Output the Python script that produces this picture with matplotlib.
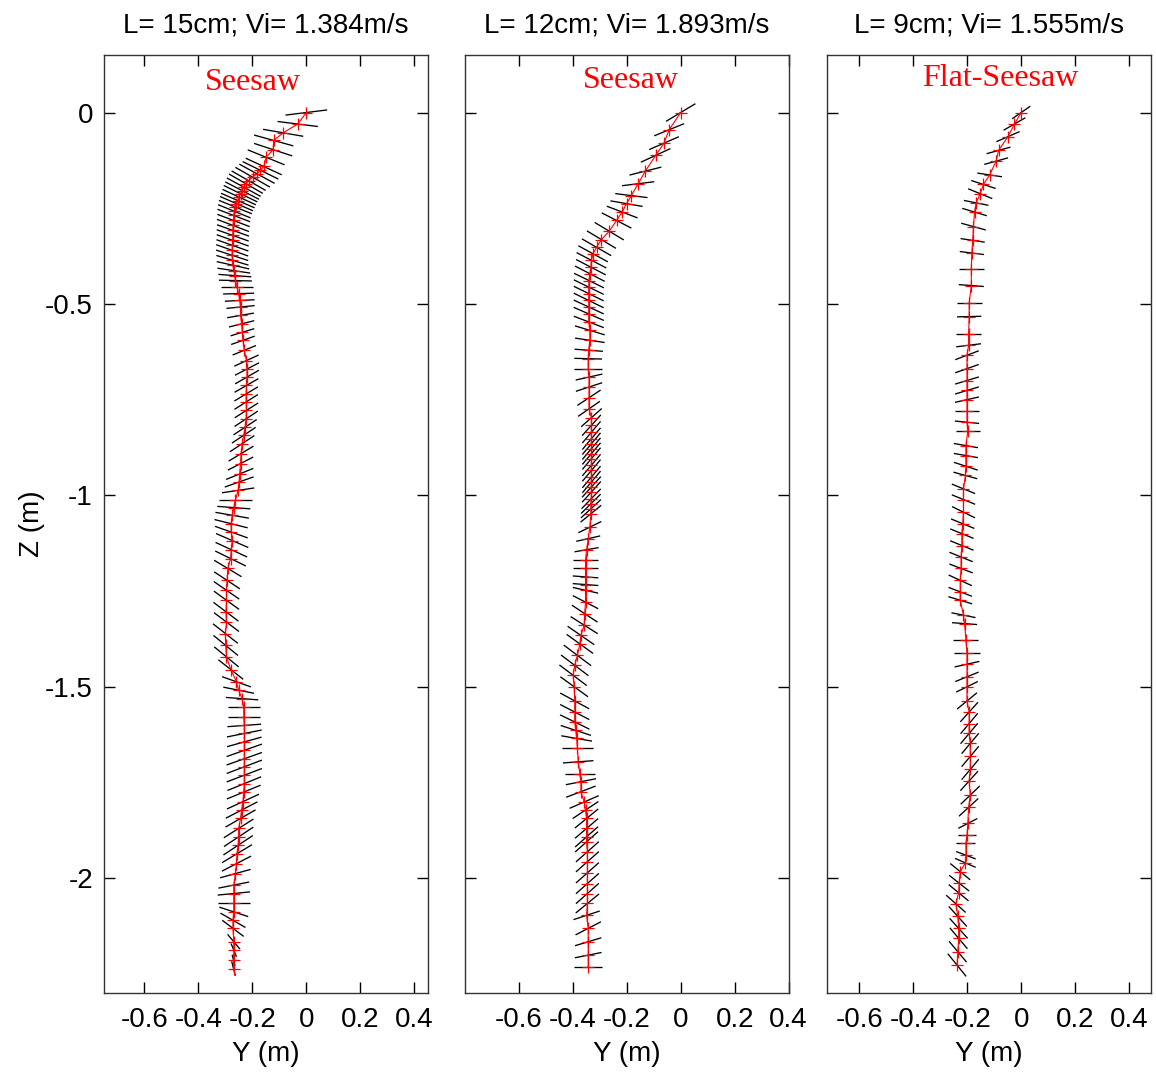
import numpy as np
import matplotlib.pyplot as plt

plt.rcParams['font.family'] = ['Liberation Sans', 'DejaVu Sans']
plt.rcParams['axes.unicode_minus'] = False

# ---- data: trajectory points (Z, Y), plate angle (deg), projected plate length (m)
titles = ['L= 15cm; Vi= 1.384m/s', 'L= 12cm; Vi= 1.893m/s', 'L= 9cm; Vi= 1.555m/s']
modes = ['Seesaw', 'Seesaw', 'Flat-Seesaw']
mode_pos = [(-0.20, 0.078), (-0.183, 0.083), (-0.078, 0.088)]
xlims = [(-0.75, 0.45), (-0.80, 0.40), (-0.72, 0.48)]

# panel 1 (L = 15cm)
z1 = [0.000, -0.030, -0.053, -0.073, -0.097, -0.117, -0.141, -0.151, -0.160, -0.169,
      -0.178, -0.186, -0.195, -0.204, -0.212, -0.221, -0.230, -0.238, -0.247, -0.258,
      -0.269, -0.282, -0.295, -0.308, -0.321, -0.334, -0.347, -0.360, -0.373, -0.386,
      -0.399, -0.413, -0.426, -0.439, -0.456, -0.473, -0.491, -0.508, -0.530, -0.552,
      -0.574, -0.595, -0.621, -0.648, -0.670, -0.691, -0.713, -0.735, -0.756, -0.778,
      -0.800, -0.822, -0.843, -0.865, -0.891, -0.917, -0.944, -0.965, -0.987, -1.013,
      -1.032, -1.052, -1.074, -1.096, -1.118, -1.142, -1.165, -1.191, -1.222, -1.248,
      -1.274, -1.304, -1.331, -1.361, -1.392, -1.422, -1.455, -1.487, -1.509, -1.531,
      -1.553, -1.579, -1.601, -1.622, -1.644, -1.666, -1.688, -1.709, -1.731, -1.753,
      -1.775, -1.800, -1.822, -1.844, -1.870, -1.892, -1.914, -1.936, -1.962, -1.988,
      -2.018, -2.040, -2.066, -2.088, -2.110, -2.131, -2.166, -2.188, -2.214, -2.236]
y1 = [0.000, -0.032, -0.086, -0.121, -0.123, -0.149, -0.158, -0.170, -0.183, -0.199,
      -0.214, -0.224, -0.232, -0.238, -0.244, -0.249, -0.254, -0.259, -0.263, -0.267,
      -0.269, -0.270, -0.272, -0.272, -0.273, -0.273, -0.274, -0.275, -0.275, -0.274,
      -0.272, -0.269, -0.265, -0.263, -0.257, -0.251, -0.247, -0.244, -0.244, -0.240,
      -0.237, -0.235, -0.230, -0.222, -0.220, -0.220, -0.222, -0.223, -0.223, -0.222,
      -0.223, -0.227, -0.232, -0.238, -0.242, -0.244, -0.247, -0.249, -0.253, -0.263,
      -0.269, -0.275, -0.279, -0.278, -0.275, -0.278, -0.281, -0.291, -0.294, -0.296,
      -0.296, -0.298, -0.296, -0.300, -0.299, -0.296, -0.280, -0.259, -0.251, -0.238,
      -0.232, -0.232, -0.230, -0.230, -0.230, -0.230, -0.230, -0.230, -0.230, -0.230,
      -0.232, -0.235, -0.240, -0.244, -0.251, -0.251, -0.253, -0.257, -0.259, -0.263,
      -0.269, -0.269, -0.269, -0.269, -0.272, -0.272, -0.269, -0.269, -0.270, -0.270]
ang1 = [5, -5, -7, -11, -13, -16, -18, -19, -21, -22,
        -22, -22, -21, -20, -19, -18, -17, -17, -16, -16,
        -15, -15, -15, -14, -14, -14, -14, -14, -13, -12,
        -9, -6, -3, -1, 0, 1, 2, 4, 7, 10,
        12, 14, 16, 18, 20, 22, 22, 23, 24, 24,
        25, 25, 25, 25, 23, 20, 16, 14, 6, 0,
        -3, -7, -10, -14, -17, -18, -19, -23, -25, -26,
        -27, -28, -28, -29, -30, -30, -29, -14, -8, -3,
        0, 0, 3, 8, 11, 14, 14, 15, 15, 16,
        16, 18, 20, 22, 24, 25, 25, 23, 20, 11,
        8, 4, 0, -13, -22, -28, -40, -60, -70, -70]
len1 = [0.155, 0.150, 0.150, 0.148, 0.145, 0.142, 0.140, 0.140, 0.140, 0.138,
        0.136, 0.135, 0.134, 0.133, 0.132, 0.130, 0.130, 0.128, 0.127, 0.125,
        0.125, 0.124, 0.123, 0.122, 0.122, 0.122, 0.122, 0.122, 0.122, 0.122,
        0.122, 0.122, 0.122, 0.122, 0.120, 0.115, 0.110, 0.105, 0.100, 0.095,
        0.090, 0.090, 0.090, 0.095, 0.095, 0.095, 0.095, 0.095, 0.095, 0.095,
        0.095, 0.095, 0.097, 0.100, 0.100, 0.100, 0.105, 0.110, 0.120, 0.123,
        0.123, 0.125, 0.125, 0.125, 0.125, 0.123, 0.120, 0.110, 0.105, 0.105,
        0.105, 0.105, 0.105, 0.105, 0.105, 0.105, 0.105, 0.110, 0.115, 0.120,
        0.120, 0.120, 0.125, 0.130, 0.130, 0.135, 0.135, 0.135, 0.135, 0.130,
        0.130, 0.125, 0.125, 0.120, 0.120, 0.120, 0.120, 0.120, 0.115, 0.115,
        0.115, 0.120, 0.120, 0.110, 0.100, 0.090, 0.060, 0.040, 0.030, 0.040]

# panel 2 (L = 12cm)
z2 = [0.000, -0.045, -0.080, -0.112, -0.153, -0.186, -0.217, -0.238, -0.260, -0.282,
      -0.310, -0.332, -0.352, -0.369, -0.386, -0.404, -0.421, -0.439, -0.456, -0.473,
      -0.491, -0.508, -0.526, -0.547, -0.569, -0.595, -0.621, -0.643, -0.669, -0.691,
      -0.717, -0.745, -0.774, -0.797, -0.817, -0.835, -0.852, -0.865, -0.878, -0.891,
      -0.904, -0.921, -0.935, -0.952, -0.965, -0.978, -0.991, -1.009, -1.022, -1.035,
      -1.048, -1.083, -1.113, -1.142, -1.170, -1.191, -1.213, -1.233, -1.248, -1.279,
      -1.309, -1.339, -1.366, -1.388, -1.418, -1.444, -1.470, -1.500, -1.537, -1.566,
      -1.592, -1.614, -1.635, -1.661, -1.696, -1.727, -1.748, -1.774, -1.801, -1.822,
      -1.844, -1.870, -1.892, -1.905, -1.931, -1.957, -1.986, -2.014, -2.040, -2.066,
      -2.097, -2.131, -2.166, -2.201, -2.233]
y2 = [0.000, -0.043, -0.062, -0.093, -0.131, -0.158, -0.183, -0.201, -0.217, -0.238,
      -0.265, -0.294, -0.312, -0.325, -0.331, -0.333, -0.337, -0.340, -0.341, -0.341,
      -0.341, -0.341, -0.341, -0.341, -0.337, -0.337, -0.341, -0.343, -0.343, -0.340,
      -0.340, -0.340, -0.340, -0.331, -0.331, -0.331, -0.331, -0.331, -0.331, -0.331,
      -0.331, -0.331, -0.331, -0.331, -0.331, -0.331, -0.331, -0.332, -0.333, -0.333,
      -0.333, -0.337, -0.343, -0.349, -0.353, -0.353, -0.353, -0.353, -0.353, -0.353,
      -0.356, -0.358, -0.370, -0.374, -0.383, -0.393, -0.399, -0.395, -0.393, -0.393,
      -0.393, -0.389, -0.386, -0.383, -0.380, -0.374, -0.370, -0.370, -0.358, -0.353,
      -0.349, -0.349, -0.349, -0.349, -0.346, -0.346, -0.346, -0.346, -0.346, -0.346,
      -0.349, -0.343, -0.343, -0.343, -0.343]
ang2 = [23, 16, 17, 18, 10, 5, -5, -7, -15, -20,
        -23, -23, -22, -21, -20, -20, -20, -19, -19, -19,
        -19, -18, -17, -15, -12, -6, -3, -1, 0, 9,
        13, 25, 26, 32, 38, 40, 40, 40, 40, 40,
        40, 40, 40, 40, 40, 38, 38, 36, 35, 33,
        30, 19, 9, 7, 0, 0, -3, -3, -9, -20,
        -25, -24, -26, -27, -28, -28, -28, -27, -21, -20,
        -19, -13, -7, 0, 3, 0, 8, 15, 17, 25,
        30, 31, 32, 32, 32, 32, 32, 32, 32, 30,
        13, 20, 12, 8, 0]
len2 = [0.118, 0.115, 0.115, 0.115, 0.120, 0.120, 0.120, 0.120, 0.118, 0.117,
        0.117, 0.117, 0.117, 0.117, 0.117, 0.117, 0.117, 0.117, 0.117, 0.117,
        0.117, 0.117, 0.117, 0.115, 0.113, 0.110, 0.105, 0.103, 0.103, 0.100,
        0.100, 0.095, 0.090, 0.090, 0.088, 0.088, 0.088, 0.088, 0.088, 0.088,
        0.088, 0.088, 0.088, 0.088, 0.088, 0.088, 0.088, 0.088, 0.088, 0.088,
        0.088, 0.090, 0.090, 0.090, 0.093, 0.093, 0.095, 0.095, 0.095, 0.100,
        0.105, 0.110, 0.110, 0.110, 0.115, 0.115, 0.115, 0.115, 0.115, 0.115,
        0.115, 0.115, 0.115, 0.116, 0.113, 0.113, 0.113, 0.113, 0.113, 0.105,
        0.100, 0.100, 0.100, 0.100, 0.100, 0.100, 0.100, 0.100, 0.100, 0.100,
        0.100, 0.100, 0.100, 0.100, 0.104]

# panel 3 (L = 9cm)
z3 = [0.000, -0.030, -0.063, -0.099, -0.127, -0.163, -0.188, -0.212, -0.236, -0.260,
      -0.298, -0.334, -0.367, -0.408, -0.452, -0.497, -0.533, -0.578, -0.608, -0.634,
      -0.669, -0.700, -0.726, -0.750, -0.780, -0.809, -0.832, -0.870, -0.896, -0.924,
      -0.948, -0.983, -1.011, -1.044, -1.074, -1.100, -1.131, -1.161, -1.191, -1.222,
      -1.252, -1.274, -1.313, -1.335, -1.377, -1.413, -1.441, -1.474, -1.500, -1.537,
      -1.566, -1.596, -1.622, -1.648, -1.682, -1.716, -1.746, -1.783, -1.815, -1.857,
      -1.888, -1.909, -1.940, -1.960, -1.983, -2.013, -2.038, -2.067, -2.100, -2.131,
      -2.157, -2.192, -2.227]
y3 = [0.000, -0.025, -0.049, -0.084, -0.093, -0.117, -0.140, -0.152, -0.167, -0.173,
      -0.177, -0.180, -0.183, -0.185, -0.185, -0.193, -0.193, -0.195, -0.195, -0.201,
      -0.201, -0.201, -0.201, -0.201, -0.201, -0.201, -0.198, -0.205, -0.205, -0.205,
      -0.207, -0.214, -0.214, -0.214, -0.217, -0.220, -0.220, -0.223, -0.223, -0.226,
      -0.226, -0.226, -0.214, -0.210, -0.205, -0.201, -0.201, -0.201, -0.201, -0.201,
      -0.193, -0.193, -0.193, -0.189, -0.189, -0.189, -0.193, -0.189, -0.195, -0.198,
      -0.201, -0.205, -0.205, -0.207, -0.226, -0.230, -0.232, -0.242, -0.235, -0.232,
      -0.232, -0.235, -0.238]
ang3 = [26, 22, 17, 11, 11, -6, -13, -16, -8, -12,
        -11, -6, -5, 0, -3, 0, 1, 0, 5, 15,
        14, 12, 12, 9, 0, -4, 0, -7, -7, -13,
        -11, -16, -16, -19, -16, -16, -16, -16, -15, -18,
        -15, -12, -8, -3, 0, 0, 9, 16, 19, 30,
        38, 40, 40, 40, 40, 40, 38, 34, 33, 20,
        0, 0, -15, -17, -30, -29, -30, -32, -38, -38,
        -40, -40, -41]
len3 = [0.075, 0.087, 0.090, 0.090, 0.090, 0.092, 0.093, 0.093, 0.092, 0.093,
        0.093, 0.090, 0.090, 0.093, 0.093, 0.093, 0.090, 0.095, 0.092, 0.090,
        0.090, 0.090, 0.090, 0.090, 0.090, 0.090, 0.090, 0.090, 0.090, 0.090,
        0.090, 0.090, 0.090, 0.090, 0.090, 0.090, 0.090, 0.090, 0.090, 0.090,
        0.090, 0.090, 0.090, 0.093, 0.093, 0.093, 0.093, 0.090, 0.085, 0.085,
        0.083, 0.083, 0.083, 0.083, 0.083, 0.083, 0.083, 0.085, 0.085, 0.075,
        0.070, 0.070, 0.075, 0.080, 0.085, 0.085, 0.085, 0.085, 0.085, 0.085,
        0.085, 0.085, 0.090]

panels = [(z1, y1, ang1, len1), (z2, y2, ang2, len2), (z3, y3, ang3, len3)]

fig = plt.figure(figsize=(11.56, 10.76), dpi=100)
lefts = [0.0900, 0.4022, 0.7154]

for k in range(3):
    z, y, ang, ln = [np.array(a, dtype=float) for a in panels[k]]
    ax = fig.add_axes([lefts[k], 0.0771, 0.2800, 0.8717])

    # plate segments
    t = np.radians(ang)
    dy = 0.5 * ln * np.cos(t)
    dz = 0.5 * ln * np.sin(t)
    for i in range(len(z)):
        ax.plot([y[i] - dy[i], y[i] + dy[i]], [z[i] - dz[i], z[i] + dz[i]],
                color='black', lw=0.95, solid_capstyle='butt')

    # trajectory
    ax.plot(y, z, color='red', lw=0.8, marker='+', ms=8, mew=0.9)

    ax.text(mode_pos[k][0], mode_pos[k][1], modes[k], color='red', fontsize=23,
            family=['Liberation Serif', 'DejaVu Serif'], ha='center', va='center')

    ax.set_xlim(*xlims[k])
    ax.set_ylim(-2.3, 0.15)
    ax.set_xticks([-0.6, -0.4, -0.2, 0, 0.2, 0.4])
    ax.set_xticklabels(['-0.6', '-0.4', '-0.2', '0', '0.2', '0.4'])
    ax.set_yticks([0, -0.5, -1, -1.5, -2])
    if k == 0:
        ax.set_yticklabels(['0', '-0.5', '-1', '-1.5', '-2'])
        ax.set_ylabel('Z (m)', fontsize=20, labelpad=0)
    else:
        ax.set_yticklabels([])
    ax.tick_params(direction='in', length=8, width=1, top=True, right=True,
                   labelsize=20)
    ax.tick_params(axis='x', pad=10)
    ax.tick_params(axis='y', pad=8)
    ax.set_xlabel('Y (m)', fontsize=20, labelpad=6)
    ax.set_title(titles[k], fontsize=20, pad=16)
    for s in ax.spines.values():
        s.set_linewidth(1.0)
        s.set_color('#333333')

fig.savefig('out.png', dpi=100)
